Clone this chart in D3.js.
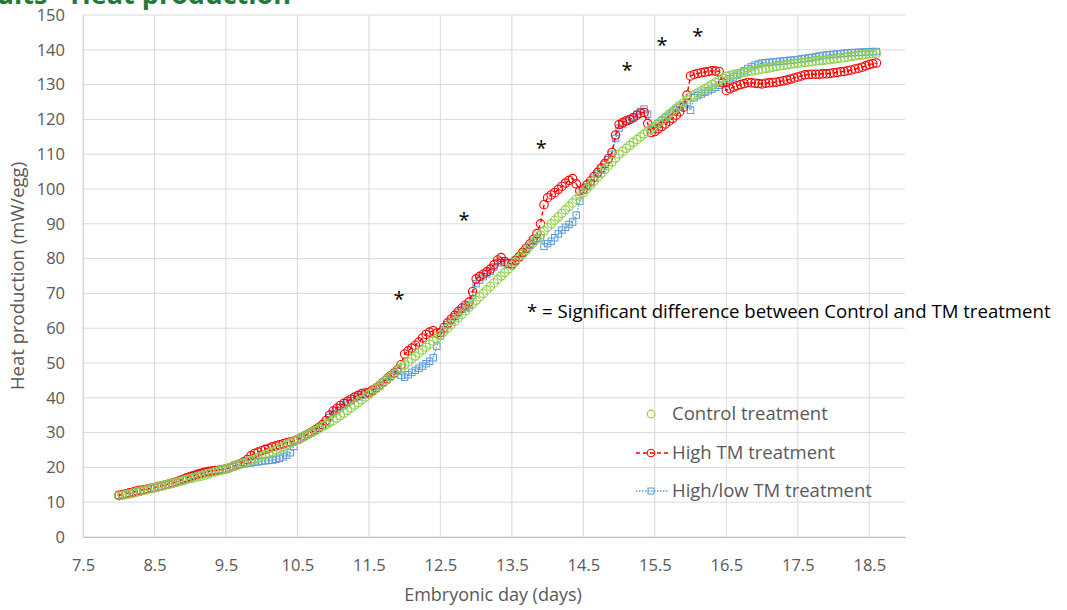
<!DOCTYPE html>
<html>
<head>
<meta charset="utf-8">
<script src="https://cdn.jsdelivr.net/npm/d3@7"></script>
<style>
  html, body { margin: 0; padding: 0; background: #ffffff; }
  svg { display: block; }
  text { font-family: "Open Sans", "Liberation Sans", sans-serif; }
</style>
</head>
<body>
<svg id="chart" width="1067" height="610"></svg>
<script>
// ---------------- data ----------------
const days = [
  8.00,8.05,8.10,8.15,8.20,8.25,8.30,8.35,8.40,8.45,
  8.50,8.55,8.60,8.65,8.70,8.75,8.80,8.85,8.90,8.95,
  9.00,9.05,9.10,9.15,9.20,9.25,9.30,9.35,9.40,9.45,
  9.50,9.55,9.60,9.65,9.70,9.75,9.80,9.85,9.90,9.95,
  10.00,10.05,10.10,10.15,10.20,10.25,10.30,10.35,10.40,10.45,
  10.50,10.55,10.60,10.65,10.70,10.75,10.80,10.85,10.90,10.95,
  11.00,11.05,11.10,11.15,11.20,11.25,11.30,11.35,11.40,11.45,
  11.50,11.55,11.60,11.65,11.70,11.75,11.80,11.85,11.90,11.95,
  12.00,12.05,12.10,12.15,12.20,12.25,12.30,12.35,12.40,12.45,
  12.50,12.55,12.60,12.65,12.70,12.75,12.80,12.85,12.90,12.95,
  13.00,13.05,13.10,13.15,13.20,13.25,13.30,13.35,13.40,13.45,
  13.50,13.55,13.60,13.65,13.70,13.75,13.80,13.85,13.90,13.95,
  14.00,14.05,14.10,14.15,14.20,14.25,14.30,14.35,14.40,14.45,
  14.50,14.55,14.60,14.65,14.70,14.75,14.80,14.85,14.90,14.95,
  15.00,15.05,15.10,15.15,15.20,15.25,15.30,15.35,15.40,15.45,
  15.50,15.55,15.60,15.65,15.70,15.75,15.80,15.85,15.90,15.95,
  16.00,16.05,16.10,16.15,16.20,16.25,16.30,16.35,16.40,16.45,
  16.50,16.55,16.60,16.65,16.70,16.75,16.80,16.85,16.90,16.95,
  17.00,17.05,17.10,17.15,17.20,17.25,17.30,17.35,17.40,17.45,
  17.50,17.55,17.60,17.65,17.70,17.75,17.80,17.85,17.90,17.95,
  18.00,18.05,18.10,18.15,18.20,18.25,18.30,18.35,18.40,18.45,
  18.50,18.55,18.60];

const control = [
  11.8,12.0,12.2,12.4,12.6,12.9,13.1,13.4,13.6,13.9,
  14.2,14.4,14.7,15.0,15.2,15.4,15.7,16.0,16.2,16.5,
  16.8,17.0,17.3,17.5,17.8,18.1,18.4,18.7,19.0,19.3,
  19.6,19.9,20.3,20.6,21.0,21.3,21.7,22.0,22.4,22.8,
  23.2,23.6,24.1,24.5,25.0,25.5,26.0,26.5,27.0,27.5,
  28.0,28.5,29.0,29.5,30.1,30.6,31.2,31.7,32.3,32.9,
  33.5,34.2,34.9,35.6,36.4,37.1,37.9,38.6,39.4,40.2,
  41.0,41.8,42.7,43.5,44.4,45.2,46.1,46.9,47.8,48.6,
  49.5,50.3,51.2,52.0,52.9,53.7,54.6,55.4,56.3,57.1,
  58.0,59.0,60.0,61.0,62.0,63.0,64.0,65.0,66.0,67.0,
  68.0,69.0,70.0,71.0,72.0,73.0,74.0,75.0,76.0,77.0,
  78.0,79.1,80.2,81.3,82.4,83.5,84.6,85.7,86.8,87.9,
  89.0,90.0,91.0,92.0,93.0,94.0,95.0,96.0,97.0,98.0,
  99.0,100.1,101.2,102.3,103.4,104.5,105.6,106.7,107.8,108.9,
  110.0,110.8,111.7,112.5,113.4,114.2,115.0,115.8,116.5,117.2,
  118.0,118.9,119.8,120.6,121.5,122.3,123.2,124.0,124.8,125.6,
  126.4,127.0,127.6,128.2,128.8,129.4,130.0,130.6,131.2,131.8,
  132.4,132.6,132.9,133.1,133.3,133.5,133.7,133.9,134.1,134.3,
  134.5,134.7,134.8,135.0,135.2,135.4,135.5,135.7,135.9,136.0,
  136.2,136.3,136.4,136.5,136.6,136.8,136.9,137.0,137.1,137.2,
  137.3,137.5,137.6,137.8,137.9,138.1,138.2,138.4,138.5,138.7,
  138.8,138.9,139.0];

const highTM = [
  12.0,12.2,12.4,12.7,12.9,13.2,13.4,13.6,13.8,14.0,
  14.2,14.5,14.7,15.0,15.2,15.5,15.8,16.2,16.6,17.0,
  17.4,17.7,18.0,18.3,18.6,18.8,19.0,19.1,19.2,19.4,
  19.6,19.9,20.3,20.7,21.1,21.6,22.3,23.4,24.0,24.4,
  24.8,25.2,25.5,25.9,26.2,26.5,26.8,27.1,27.3,27.6,
  28.0,28.5,29.0,29.6,30.2,30.8,31.5,32.3,33.5,35.0,
  36.2,37.0,37.8,38.4,39.0,39.6,40.2,40.7,41.2,41.4,
  41.6,42.2,42.8,43.6,44.5,45.4,46.3,47.1,48.0,49.5,
  52.6,53.5,54.3,55.1,56.0,57.2,58.2,58.9,59.3,58.6,
  58.8,60.2,61.5,62.6,63.7,64.8,65.8,66.6,67.5,70.5,
  74.2,74.9,75.5,76.2,77.0,78.2,79.6,80.3,79.2,78.6,
  78.5,79.5,80.5,81.8,83.0,84.2,85.5,87.2,90.0,95.5,
  97.5,98.3,99.0,99.9,100.8,101.7,102.5,103.0,101.5,99.5,
  100.0,101.2,102.3,103.6,104.8,106.0,107.3,108.7,110.5,115.5,
  118.5,119.1,119.6,120.0,120.5,121.2,121.8,122.0,118.8,116.2,
  116.5,117.3,118.0,118.7,119.5,120.3,121.2,122.2,123.5,127.0,
  132.5,132.9,133.2,133.4,133.6,133.8,134.0,133.9,133.8,130.5,
  128.3,128.8,129.3,129.7,130.0,130.3,130.6,130.5,130.4,130.3,
  130.2,130.4,130.5,130.6,130.7,130.9,131.1,131.3,131.6,131.9,
  132.2,132.5,132.8,132.9,133.0,133.0,133.0,133.1,133.1,133.2,
  133.4,133.5,133.7,133.8,134.0,134.2,134.5,134.7,135.0,135.4,
  135.8,136.0,136.2];

const highLowTM = [
  12.0,12.1,12.3,12.5,12.7,13.0,13.2,13.5,13.7,13.9,
  14.1,14.4,14.6,14.9,15.1,15.4,15.7,16.1,16.5,16.9,
  17.3,17.7,18.0,18.4,18.7,18.9,19.1,19.2,19.3,19.4,
  19.6,19.9,20.2,20.5,20.8,21.0,21.2,21.3,21.5,21.6,
  21.8,21.9,22.0,22.1,22.3,22.6,23.0,23.5,24.2,26.0,
  27.8,28.4,29.0,29.5,30.0,30.6,31.3,32.0,33.0,34.3,
  35.5,36.4,37.2,37.9,38.6,39.2,39.8,40.3,40.8,41.0,
  41.3,42.0,42.7,43.5,44.4,45.2,46.1,46.8,47.6,46.5,
  45.9,46.6,47.3,47.9,48.5,49.1,49.8,50.5,51.5,54.8,
  57.8,59.6,61.0,62.2,63.3,64.4,65.4,66.0,66.6,69.5,
  72.8,73.8,74.8,75.6,76.4,77.6,78.8,79.4,78.8,78.4,
  78.2,79.3,80.4,81.5,82.6,83.8,85.0,85.8,86.0,83.5,
  84.3,85.0,86.0,87.1,88.2,89.0,89.8,90.5,92.5,96.5,
  99.6,100.7,101.8,103.1,104.4,105.7,107.0,108.4,110.0,114.5,
  117.5,118.5,119.4,120.0,120.6,121.5,122.3,123.0,121.5,117.0,
  117.8,118.7,119.6,120.4,121.2,122.0,122.8,123.5,124.2,124.8,
  122.6,126.2,126.8,127.3,127.8,128.2,128.7,129.2,129.8,130.5,
  131.2,131.7,132.2,132.7,133.3,134.0,134.6,135.1,135.6,135.9,
  136.2,136.3,136.4,136.5,136.6,136.7,136.8,136.9,137.0,137.1,
  137.2,137.4,137.5,137.7,137.8,138.0,138.2,138.4,138.5,138.6,
  138.7,138.8,138.9,139.0,139.1,139.2,139.2,139.3,139.3,139.4,
  139.4,139.5,139.5];

const seriesNames = ["Control treatment", "High TM treatment", "High/low TM treatment"];
const xTicks = [7.5,8.5,9.5,10.5,11.5,12.5,13.5,14.5,15.5,16.5,17.5,18.5];
const yTicks = [0,10,20,30,40,50,60,70,80,90,100,110,120,130,140,150];
const starDays = [11.92, 12.83, 13.91, 15.11, 15.6, 16.1];
const starValues = [69, 91.7, 112.4, 134.8, 142.2, 144.8];

const titleText = "Results - Heat production";
const xTitle = "Embryonic day (days)";
const yTitle = "Heat production (mW/egg)";
const noteText = "* = Significant difference between Control and TM treatment";

// ---------------- drawing ----------------
const svg = d3.select("#chart");
const x = d3.scaleLinear().domain([7.5, 19.0]).range([83, 905]);
const y = d3.scaleLinear().domain([0, 150]).range([537, 15]);

const gridColor = "#d9d9d9";
const labelColor = "#595959";

// gridlines
svg.append("g").selectAll("line").data(yTicks).join("line")
  .attr("x1", x(7.5)).attr("x2", x(19.0))
  .attr("y1", d => y(d)).attr("y2", d => y(d))
  .attr("stroke", gridColor).attr("stroke-width", 1);
svg.append("g").selectAll("line").data(xTicks).join("line")
  .attr("x1", d => x(d)).attr("x2", d => x(d))
  .attr("y1", y(0)).attr("y2", y(150))
  .attr("stroke", gridColor).attr("stroke-width", 1);

// axes
const xAxis = d3.axisBottom(x).tickValues(xTicks).tickFormat(d3.format(".1f")).tickSize(0).tickPadding(22);
const gx = svg.append("g").attr("transform", `translate(0,${y(0)})`).call(xAxis);
gx.select(".domain").attr("stroke", "#bfbfbf");
gx.selectAll("text").attr("fill", labelColor).attr("font-size", 16.5)
  .style("font-family", "'Open Sans', sans-serif");

const yAxis = d3.axisLeft(y).tickValues(yTicks).tickSize(0).tickPadding(18);
const gy = svg.append("g").attr("transform", `translate(${x(7.5)},0)`).call(yAxis);
gy.select(".domain").attr("stroke", gridColor);
gy.selectAll("text").attr("fill", labelColor).attr("font-size", 16.5)
  .style("font-family", "'Open Sans', sans-serif");

// axis titles
svg.append("text").attr("x", 493).attr("y", 601).attr("text-anchor", "middle")
  .attr("fill", labelColor).attr("font-size", 18).text(xTitle);
svg.append("text").attr("transform", "translate(24,276) rotate(-90)").attr("text-anchor", "middle")
  .attr("fill", labelColor).attr("font-size", 18.5).text(yTitle);

// title (clipped at top-left as in the slide)
svg.append("text").attr("x", 291).attr("y", 4).attr("text-anchor", "end")
  .attr("fill", "#217a3c").attr("font-weight", "bold").attr("font-size", 27).text(titleText);

// series
const rows = days.map((d, i) => ({ d, c: control[i], h: highTM[i], b: highLowTM[i] }));
const blue = "#5b9bd5", red = "#ff0000", green = "#92d050";

// High/low TM: dotted blue line + squares
svg.append("path").datum(rows)
  .attr("d", d3.line().x(r => x(r.d)).y(r => y(r.b)))
  .attr("fill", "none").attr("stroke", blue).attr("stroke-width", 1.3).attr("stroke-dasharray", "1.5,1.5");
svg.append("g").selectAll("rect").data(rows).join("rect")
  .attr("x", r => x(r.d) - 3.2).attr("y", r => y(r.b) - 3.2).attr("width", 6.4).attr("height", 6.4)
  .attr("fill", "none").attr("stroke", blue).attr("stroke-width", 1);

// High TM: dashed red line + circles
svg.append("path").datum(rows)
  .attr("d", d3.line().x(r => x(r.d)).y(r => y(r.h)))
  .attr("fill", "none").attr("stroke", red).attr("stroke-width", 1.5).attr("stroke-dasharray", "4,3");
svg.append("g").selectAll("circle").data(rows).join("circle")
  .attr("cx", r => x(r.d)).attr("cy", r => y(r.h)).attr("r", 4.2)
  .attr("fill", "none").attr("stroke", red).attr("stroke-width", 1.1);

// Control: green circles only
svg.append("g").selectAll("circle").data(rows).join("circle")
  .attr("cx", r => x(r.d)).attr("cy", r => y(r.c)).attr("r", 4.2)
  .attr("fill", "none").attr("stroke", green).attr("stroke-width", 1.2);

// significance stars
svg.append("g").selectAll("text").data(starDays).join("text")
  .attr("x", (d) => x(d)).attr("y", (d, i) => y(starValues[i]) + 9.5)
  .attr("text-anchor", "middle").attr("font-size", 20).attr("fill", "#000").text("*");

svg.append("text").attr("x", 527).attr("y", 318).attr("font-size", 18.6).attr("fill", "#000").text(noteText);

// legend
const legend = svg.append("g");
const legY = [414, 453, 491];
const lx0 = 636, lx1 = 668, lm = 651;
legend.append("circle").attr("cx", lm).attr("cy", legY[0]).attr("r", 3.8)
  .attr("fill", "none").attr("stroke", green).attr("stroke-width", 1.2);
legend.append("line").attr("x1", lx0).attr("x2", lx1).attr("y1", legY[1]).attr("y2", legY[1])
  .attr("stroke", red).attr("stroke-width", 1.5).attr("stroke-dasharray", "4,3");
legend.append("circle").attr("cx", lm).attr("cy", legY[1]).attr("r", 3.8)
  .attr("fill", "none").attr("stroke", red).attr("stroke-width", 1.1);
legend.append("line").attr("x1", lx0).attr("x2", lx1).attr("y1", legY[2]).attr("y2", legY[2])
  .attr("stroke", blue).attr("stroke-width", 1.3).attr("stroke-dasharray", "1.5,1.5");
legend.append("rect").attr("x", lm - 3).attr("y", legY[2] - 3).attr("width", 6).attr("height", 6)
  .attr("fill", "none").attr("stroke", blue).attr("stroke-width", 1);
legend.selectAll("text.lg").data(seriesNames).join("text").attr("class", "lg")
  .attr("x", 672).attr("y", (d, i) => legY[i] + 6)
  .attr("font-size", 18.5).attr("fill", labelColor).text(d => d);
</script>
</body>
</html>
